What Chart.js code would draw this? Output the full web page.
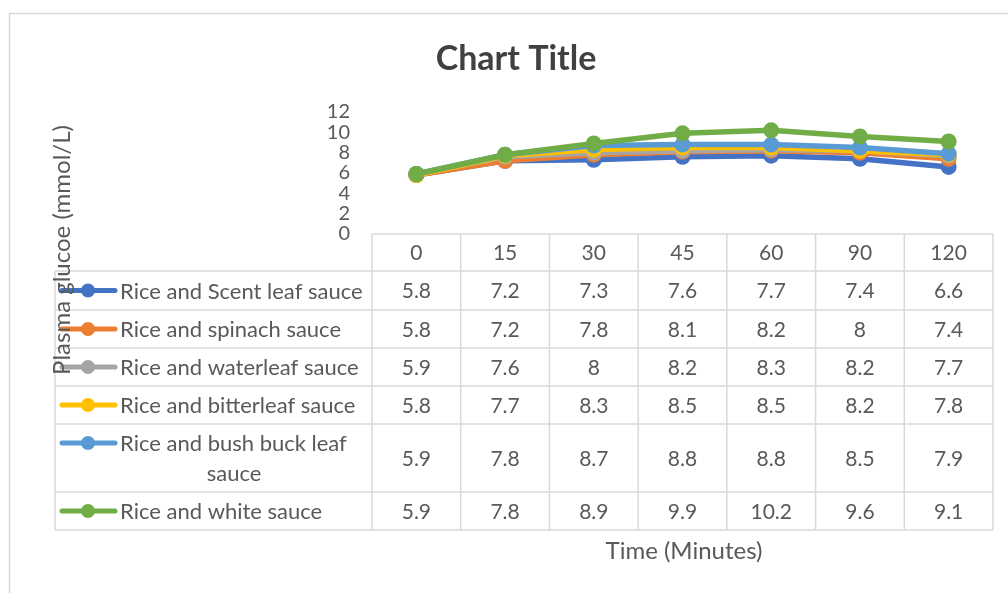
<!DOCTYPE html>
<html><head><meta charset="utf-8">
<script src="https://cdn.jsdelivr.net/npm/chart.js@4/dist/chart.umd.min.js"></script>
<style>html,body{margin:0;padding:0;background:#fff;}canvas{display:block;}</style>
</head><body>
<canvas id="c" width="1008" height="593"></canvas>
<script>
const categories = ['0', '15', '30', '45', '60', '90', '120'];
const seriesNames = [
  ['Rice and Scent leaf sauce'],
  ['Rice and spinach sauce'],
  ['Rice and waterleaf sauce'],
  ['Rice and bitterleaf sauce'],
  ['Rice and bush buck leaf', 'sauce'],
  ['Rice and white sauce']
];
const scentLeaf  = [5.8, 7.2, 7.3, 7.6, 7.7, 7.4, 6.6];
const spinach    = [5.8, 7.2, 7.8, 8.1, 8.2, 8, 7.4];
const waterleaf  = [5.9, 7.6, 8, 8.2, 8.3, 8.2, 7.7];
const bitterleaf = [5.8, 7.7, 8.3, 8.5, 8.5, 8.2, 7.8];
const bushBuck   = [5.9, 7.8, 8.7, 8.8, 8.8, 8.5, 7.9];
const whiteSauce = [5.9, 7.8, 8.9, 9.9, 10.2, 9.6, 9.1];
const yTicks = [0, 2, 4, 6, 8, 10, 12];
const seriesValues = [scentLeaf, spinach, waterleaf, bitterleaf, bushBuck, whiteSauce];
const seriesColors = ['#4472C4', '#ED7D31', '#A5A5A5', '#FFC000', '#5B9BD5', '#70AD47'];
const chartTitle = 'Chart Title';
const xTitle = 'Time (Minutes)';
const yTitle = 'Plasma glucoe (mmol/L)';

const FONT = 'Lato, "Open Sans", sans-serif';
const rowLines = [234, 271, 310, 348, 386, 424, 492, 530];
const legendLeft = 55;

const tablePlugin = {
  id: 'tablePlugin',
  beforeDraw(chart) {
    const ctx = chart.ctx;
    ctx.save();
    ctx.fillStyle = '#fff';
    ctx.fillRect(0, 0, chart.width, chart.height);
    ctx.strokeStyle = '#d9d9d9';
    ctx.lineWidth = 1.5;
    ctx.strokeRect(9.5, 13.5, 1010, 600);
    ctx.restore();
  },
  afterDraw(chart) {
    const ctx = chart.ctx;
    const xs = chart.scales.x;
    const step = xs.getPixelForValue(1) - xs.getPixelForValue(0);
    const left = xs.getPixelForValue(0) - step / 2;
    const right = xs.getPixelForValue(categories.length - 1) + step / 2;
    ctx.save();
    ctx.strokeStyle = '#d9d9d9';
    ctx.lineWidth = 1.5;
    ctx.beginPath();
    ctx.moveTo(left, rowLines[0]); ctx.lineTo(right, rowLines[0]);
    for (let i = 1; i < rowLines.length; i++) {
      ctx.moveTo(legendLeft, rowLines[i]); ctx.lineTo(right, rowLines[i]);
    }
    for (let c = 0; c <= categories.length; c++) {
      const x = left + c * step;
      ctx.moveTo(x, rowLines[0]); ctx.lineTo(x, rowLines[rowLines.length - 1]);
    }
    ctx.moveTo(legendLeft, rowLines[1]); ctx.lineTo(legendLeft, rowLines[rowLines.length - 1]);
    ctx.stroke();

    ctx.fillStyle = '#595959';
    ctx.font = '21px ' + FONT;
    ctx.textAlign = 'center';
    ctx.textBaseline = 'middle';
    categories.forEach((c, i) => {
      ctx.fillText(c, xs.getPixelForValue(i), (rowLines[0] + rowLines[1]) / 2 + 1);
    });
    seriesValues.forEach((vals, r) => {
      const yc = (rowLines[r + 1] + rowLines[r + 2]) / 2 + 1;
      ctx.font = '21px ' + FONT;
      ctx.fillStyle = '#595959';
      ctx.textAlign = 'center';
      vals.forEach((v, i) => {
        ctx.fillText(String(v), xs.getPixelForValue(i), yc);
      });
      const names = seriesNames[r];
      const y1 = names.length > 1 ? yc - 15 : yc;
      ctx.strokeStyle = seriesColors[r];
      ctx.lineWidth = 5;
      ctx.lineCap = 'round';
      ctx.beginPath();
      ctx.moveTo(62, y1 - 1); ctx.lineTo(115, y1 - 1);
      ctx.stroke();
      ctx.fillStyle = seriesColors[r];
      ctx.beginPath();
      ctx.arc(88, y1 - 1, 7, 0, Math.PI * 2);
      ctx.fill();
      ctx.fillStyle = '#595959';
      ctx.font = '22px ' + FONT;
      ctx.textAlign = 'left';
      ctx.fillText(names[0], 120, y1);
      if (names.length > 1) {
        ctx.textAlign = 'center';
        ctx.fillText(names[1], 234, y1 + 30);
      }
    });

    ctx.fillStyle = '#404040';
    ctx.font = 'bold 34px ' + FONT;
    ctx.textAlign = 'center';
    ctx.fillText(chartTitle, 516, 59);
    ctx.fillStyle = '#595959';
    ctx.font = '24px ' + FONT;
    ctx.fillText(xTitle, 684, 551);
    ctx.save();
    ctx.translate(62, 250);
    ctx.rotate(-Math.PI / 2);
    ctx.fillText(yTitle, 0, 0);
    ctx.restore();
    ctx.restore();
  }
};

new Chart(document.getElementById('c'), {
  type: 'line',
  data: {
    labels: categories,
    datasets: seriesValues.map((vals, i) => ({
      label: seriesNames[i].join(' '),
      data: vals,
      borderColor: seriesColors[i],
      backgroundColor: seriesColors[i],
      borderWidth: 5.5,
      pointRadius: 8,
      pointHoverRadius: 8,
      pointBorderWidth: 0,
      tension: 0,
      clip: false,
      order: seriesValues.length - i
    }))
  },
  options: {
    responsive: false,
    devicePixelRatio: 1,
    animation: false,
    events: [],
    layout: { padding: { left: 300, right: 15, top: 112, bottom: 359 } },
    plugins: { legend: { display: false }, title: { display: false }, tooltip: { enabled: false } },
    scales: {
      x: { type: 'category', offset: true, display: false },
      y: {
        min: yTicks[0], max: yTicks[yTicks.length - 1],
        afterBuildTicks(scale) { scale.ticks = yTicks.map(v => ({ value: v })); },
        afterFit(scale) { scale.width = 72; },
        grid: { display: false, drawTicks: false },
        border: { display: false },
        ticks: { padding: 22, autoSkip: false, color: '#595959', font: { family: FONT, size: 20, lineHeight: 1 } }
      }
    }
  },
  plugins: [tablePlugin]
});
</script>
</body></html>
